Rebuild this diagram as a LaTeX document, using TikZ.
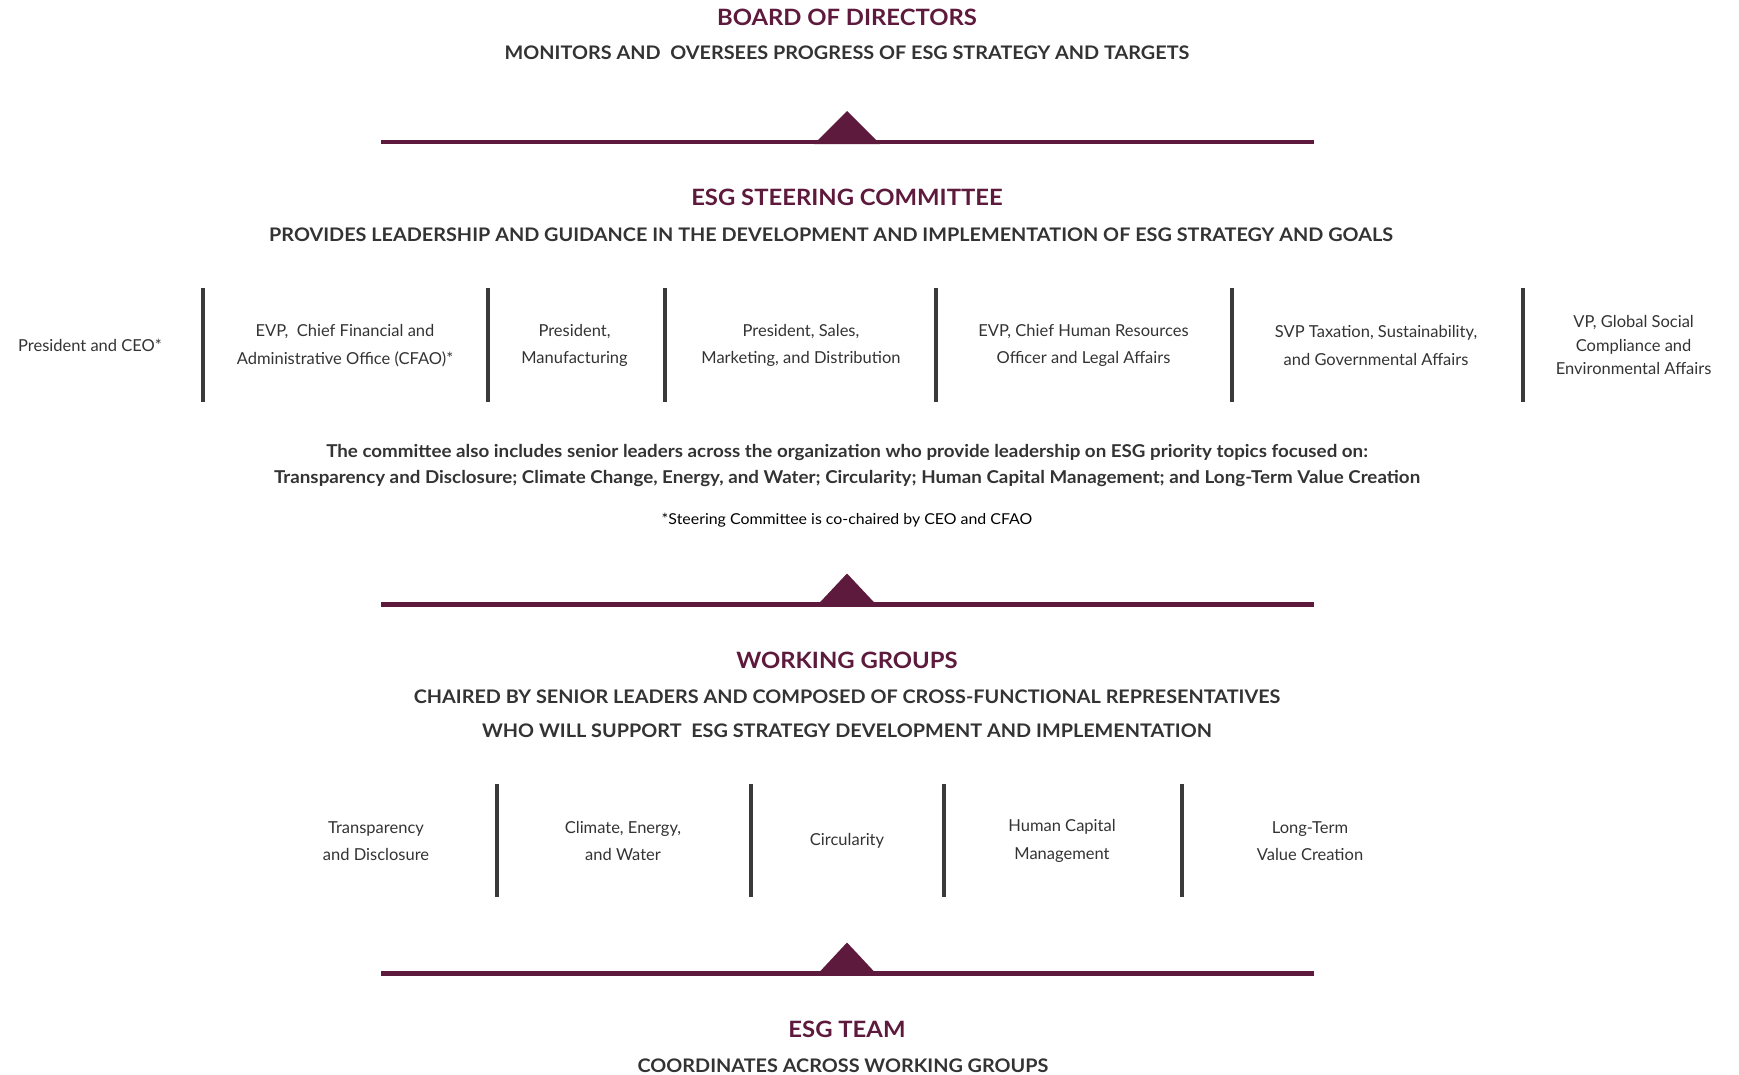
\documentclass[tikz,border=0pt]{standalone}
\usepackage{fontspec}
\setmainfont{Lato}
\newfontfamily\widefont[FakeStretch=1.06]{Lato}
\definecolor{maroon}{HTML}{5E1A3C}
\definecolor{ink}{HTML}{333333}
\definecolor{sepgray}{HTML}{3A3A3A}
\tikzset{
  head/.style={inner sep=0pt, text=maroon, font=\widefont\fontsize{22.5}{26}\selectfont\bfseries},
  sub/.style={inner sep=0pt, text=ink, font=\widefont\fontsize{18.7}{22}\selectfont\bfseries},
  member/.style={inner sep=0pt, text=ink, align=center, font=\fontsize{16.5}{27.7}\selectfont},
  memberthree/.style={member, font=\fontsize{16.5}{23.3}\selectfont},
  para/.style={inner sep=0pt, text=ink, align=center, font=\widefont\fontsize{17.7}{26}\selectfont\bfseries},
  note/.style={inner sep=0pt, text=black, font=\widefont\fontsize{15}{18}\selectfont},
  tier/.style={draw=maroon, line width=4.5pt},
  pointer/.style={fill=maroon, draw=none},
  sep/.style={draw=sepgray, line width=3.2pt},
}
\begin{document}
\begin{tikzpicture}[x=1pt,y=-1pt]
\useasboundingbox (0,0) rectangle (1739,1074);

% --- Board of Directors ---
\node[head] (bod) at (847,17) {BOARD OF DIRECTORS};
\node[sub] (bodtxt) at (847,52.5) {MONITORS AND\ \ OVERSEES PROGRESS OF ESG STRATEGY AND TARGETS};

% tier divider 1
\coordinate (r1a) at (381,142);
\coordinate (r1b) at (1314,142);
\draw[tier] (r1a) -- (r1b);
\fill[pointer] (814,144) -- (847,111) -- (880,144) -- cycle;

% --- ESG Steering Committee ---
\node[head] (sc) at (847,197.5) {ESG STEERING COMMITTEE};
\node[sub] (sctxt) at (831,234.5) {PROVIDES LEADERSHIP AND GUIDANCE IN THE DEVELOPMENT AND IMPLEMENTATION OF ESG STRATEGY AND GOALS};

% committee members
\node[member] (m1) at (90,345.5) {President and CEO*};
\node[member] (m2) at (345,345.5) {EVP,\ \ Chief Financial and\\Administrative Office (CFAO)*};
\node[member] (m3) at (574.5,345.5) {President,\\Manufacturing};
\node[member] (m4) at (801,345.5) {President, Sales,\\Marketing, and Distribution};
\node[member] (m5) at (1083.5,345.5) {EVP, Chief Human Resources\\Officer and Legal Affairs};
\node[member] (m6) at (1376,345.5) {SVP Taxation, Sustainability,\\and Governmental Affairs};
\node[memberthree] (m7) at (1633.6,345) {VP, Global Social\\Compliance and\\Environmental Affairs};

\foreach \x in {203,488,665,936,1232,1523}
  \draw[sep] (\x,288) -- (\x,401.5);

\node[para] (scpara) at (847,466) {The committee also includes senior leaders across the organization who provide leadership on ESG priority topics focused on:\\Transparency and Disclosure; Climate Change, Energy, and Water; Circularity; Human Capital Management; and Long-Term Value Creation};
\node[note] (scnote) at (847,520) {*Steering Committee is co-chaired by CEO and CFAO};

% tier divider 2
\coordinate (r2a) at (381,604.5);
\coordinate (r2b) at (1314,604.5);
\draw[tier] (r2a) -- (r2b);
\fill[pointer] (816,606.5) -- (847,573.5) -- (878,606.5) -- cycle;

% --- Working Groups ---
\node[head] (wg) at (847,660) {WORKING GROUPS};
\node[sub] (wgtxt1) at (847,697) {CHAIRED BY SENIOR LEADERS AND COMPOSED OF CROSS-FUNCTIONAL REPRESENTATIVES};
\node[sub] (wgtxt2) at (847,730.5) {WHO WILL SUPPORT\ \ ESG STRATEGY DEVELOPMENT AND IMPLEMENTATION};

\node[member] (g1) at (376,841) {Transparency\\and Disclosure};
\node[member] (g2) at (623,841) {Climate, Energy,\\and Water};
\node[member] (g3) at (847,841) {Circularity};
\node[member] (g4) at (1062,841) {Human Capital\\Management};
\node[member] (g5) at (1310,841) {Long-Term\\Value Creation};

\foreach \x in {497,751,944,1182}
  \draw[sep] (\x,784) -- (\x,897);

% tier divider 3
\coordinate (r3a) at (381,973.7);
\coordinate (r3b) at (1314,973.7);
\draw[tier] (r3a) -- (r3b);
\fill[pointer] (816,975.7) -- (847,942.5) -- (878,975.7) -- cycle;

% --- ESG Team ---
\node[head] (team) at (847,1029) {ESG TEAM};
\node[sub] (teamtxt) at (843,1065.5) {COORDINATES ACROSS WORKING GROUPS};
\end{tikzpicture}
\end{document}
